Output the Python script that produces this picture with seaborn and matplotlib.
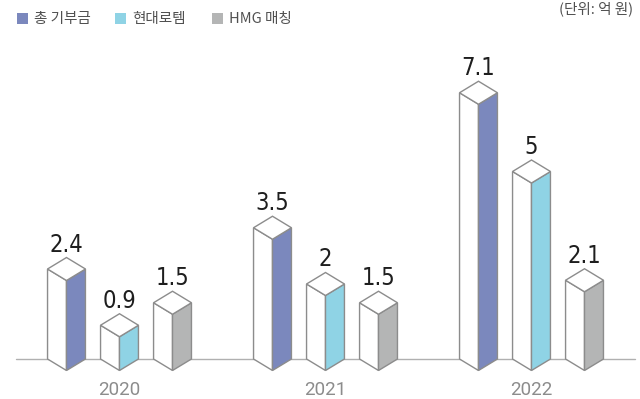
import matplotlib
matplotlib.use("Agg")
import matplotlib.pyplot as plt
from matplotlib.patches import Polygon, Rectangle
import pandas as pd
import seaborn as sns

# Donation amounts (unit: 100 million won)
years = ["2020", "2021", "2022"]
series = ["총 기부금", "현대로템", "HMG 매칭"]
total = [2.4, 3.5, 7.1]
rotem = [0.9, 2, 5]
hmg = [1.5, 1.5, 2.1]
colors = ["#7b88bd", "#8fd3e5", "#b4b5b5"]

df = pd.DataFrame({
    "year": years * 3,
    "series": [s for s in series for _ in years],
    "value": total + rotem + hmg,
})

sns.set_theme(style="white")
plt.rcParams["font.family"] = ["Noto Sans CJK KR", "DejaVu Sans"]

W_PX, H_PX = 640, 399
fig = plt.figure(figsize=(6.4, 3.99), dpi=100)
ax = fig.add_axes([0, 0, 1, 1])

PX_PER_UNIT = 37.5
BASE_PX = 359
GROUP_PX = 206
X0_PX = 119.5

sns.barplot(data=df, x="year", y="value", hue="series", order=years,
            hue_order=series, width=0.772, gap=0.285, ax=ax, legend=False,
            errorbar=None)
ax.set_xlim(-X0_PX / GROUP_PX, (W_PX - X0_PX) / GROUP_PX)
ax.set_ylim(-(H_PX - BASE_PX) / PX_PER_UNIT, BASE_PX / PX_PER_UNIT)
ax.axis("off")

def px_x(p):
    return (p - X0_PX) / GROUP_PX

# baseline
ax.plot([px_x(16), px_x(635)], [0, 0], color="#b0b0b0", lw=1, zorder=1)

# each bar becomes a prism: white left face, coloured right face, white top
d = 11.5 / PX_PER_UNIT
edge = "#8c8c8c"
for container, color in zip(ax.containers, colors):
    for bar in container:
        L = bar.get_x()
        w = bar.get_width()
        h = bar.get_height()
        M, R = L + w / 2, L + w
        bar.set_visible(False)
        left = Polygon([(L, h), (M, h - d), (M, -d), (L, 0)], closed=True,
                       facecolor="white", edgecolor=edge, lw=1.0, zorder=3)
        right = Polygon([(M, h - d), (R, h), (R, 0), (M, -d)], closed=True,
                        facecolor=color, edgecolor=edge, lw=1.0, zorder=3)
        top = Polygon([(L, h), (M, h + d), (R, h), (M, h - d)], closed=True,
                      facecolor="white", edgecolor=edge, lw=1.0, zorder=4)
        for p in (left, right, top):
            ax.add_patch(p)
        ax.text(M, h + d + 6 / PX_PER_UNIT, f"{h:g}", ha="center",
                va="baseline", fontsize=17, color="#1e1e1e",
                family="DejaVu Sans", fontstretch="condensed", zorder=5)

for i, y in enumerate(years):
    ax.text(i, -(395 - BASE_PX) / PX_PER_UNIT, y, ha="center", va="baseline",
            fontsize=13.5, color="#8c8c8c", family=["Roboto", "DejaVu Sans"])

# legend
leg_x = [17, 115, 212]
for x, s, c in zip(leg_x, series, colors):
    fig.patches.append(Rectangle((x / W_PX, 1 - 24 / H_PX), 11 / W_PX, 11 / H_PX,
                                 transform=fig.transFigure, facecolor=c,
                                 edgecolor="none"))
    fig.text((x + 17) / W_PX, 1 - 18.5 / H_PX, s, ha="left", va="center",
             fontsize=10.5, color="#505050")

fig.text(633 / W_PX, 1 - 1 / H_PX, "(단위: 억 원)", ha="right", va="top",
         fontsize=10.5, color="#505050")

fig.savefig("out.png", dpi=100)
